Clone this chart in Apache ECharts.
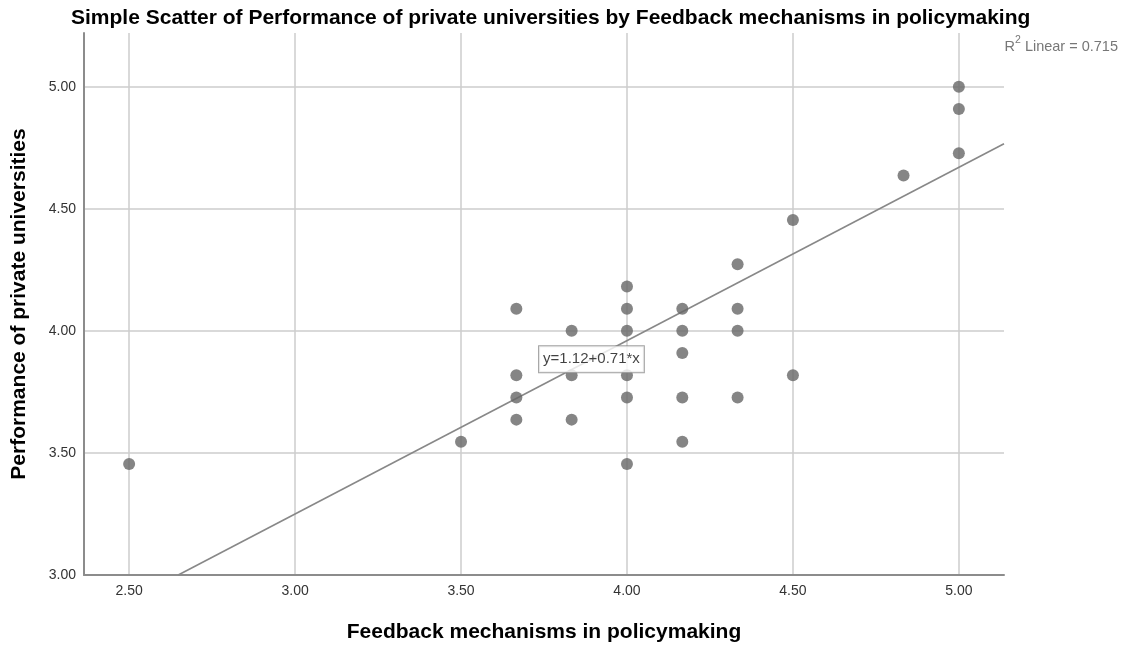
<!DOCTYPE html>
<html>
<head>
<meta charset="utf-8">
<script src="https://cdn.jsdelivr.net/npm/echarts@6/dist/echarts.min.js"></script>
<style>
  html, body { margin: 0; padding: 0; background: #fff; }
  #chart { width: 1121px; height: 645px; }
</style>
</head>
<body>
<div id="chart"></div>
<script>
// Feedback mechanisms score (x) for each respondent
const feedbackScores = [
  2.5, 3.5,
  3.6667, 3.6667, 3.6667, 3.6667,
  3.8333, 3.8333, 3.8333,
  4.0, 4.0, 4.0, 4.0, 4.0, 4.0,
  4.1667, 4.1667, 4.1667, 4.1667, 4.1667,
  4.3333, 4.3333, 4.3333, 4.3333,
  4.5, 4.5,
  4.8333,
  5.0, 5.0, 5.0
];
// Performance of private universities score (y) for each respondent
const performanceScores = [
  3.4545, 3.5455,
  4.0909, 3.8182, 3.7273, 3.6364,
  4.0, 3.8182, 3.6364,
  4.1818, 4.0909, 4.0, 3.8182, 3.7273, 3.4545,
  4.0909, 4.0, 3.9091, 3.7273, 3.5455,
  4.2727, 4.0909, 4.0, 3.7273,
  4.4545, 3.8182,
  4.6364,
  5.0, 4.9091, 4.7273
];
// Linear fit
const fitIntercept = 1.12;
const fitSlope = 0.71;
const rSquared = 0.715;
// Tick labels
const xTicks = [2.5, 3.0, 3.5, 4.0, 4.5, 5.0];
const yTicks = [3.0, 3.5, 4.0, 4.5, 5.0];

const xMin = 2.364, xMax = 5.136, yMin = 3.0, yMax = 5.22;

const points = feedbackScores.map((x, i) => [x, performanceScores[i]]);
const fitAt = x => fitIntercept + fitSlope * x;
const xStart = (yMin - fitIntercept) / fitSlope;
const fitLine = [[xStart, fitAt(xStart)], [xMax, fitAt(xMax)]];
const labelX = 3.893;

const chart = echarts.init(document.getElementById('chart'), null, { renderer: 'canvas' });
const fontFamily = '"Liberation Sans", Arial, sans-serif';

chart.setOption({
  animation: false,
  backgroundColor: '#ffffff',
  title: {
    text: 'Simple Scatter of Performance of private universities by Feedback mechanisms in policymaking',
    left: 66,
    top: 3,
    textStyle: { fontFamily, fontSize: 21, fontWeight: 'bold', color: '#000' }
  },
  grid: {
    left: 84, right: 117, top: 33, bottom: 70,
    containLabel: false,
    outerBoundsMode: 'none'
  },
  xAxis: {
    type: 'value',
    min: xMin,
    max: xMax,
    name: 'Feedback mechanisms in policymaking',
    nameLocation: 'middle',
    nameGap: 47,
    nameTextStyle: { fontFamily, fontSize: 21, fontWeight: 'bold', color: '#000' },
    axisLine: { show: true, lineStyle: { color: '#8c8c8c', width: 2 } },
    axisTick: { show: false, customValues: xTicks },
    axisLabel: {
      customValues: xTicks,
      fontFamily, fontSize: 14, color: '#333', margin: 9,
      formatter: v => v.toFixed(2)
    },
    splitLine: { show: true, lineStyle: { color: '#cccccc', width: 1.5 } }
  },
  yAxis: {
    type: 'value',
    min: yMin,
    max: yMax,
    name: 'Performance of private universities',
    nameLocation: 'middle',
    nameGap: 54,
    nameTextStyle: { fontFamily, fontSize: 21, fontWeight: 'bold', color: '#000' },
    axisLine: { show: true, lineStyle: { color: '#8c8c8c', width: 2 } },
    axisTick: { show: false, customValues: yTicks },
    axisLabel: {
      customValues: yTicks,
      fontFamily, fontSize: 14, color: '#333', margin: 8,
      formatter: v => v.toFixed(2)
    },
    splitLine: { show: true, lineStyle: { color: '#cccccc', width: 1.5 } }
  },
  graphic: [{
    type: 'text',
    right: 3,
    top: 35,
    style: {
      text: '{base|R}{sup|2}{base| Linear = ' + rSquared.toFixed(3) + '}',
      rich: {
        base: { fontFamily, fontSize: 14.5, fill: '#777777', verticalAlign: 'bottom', lineHeight: 19 },
        sup: { fontFamily, fontSize: 10.5, fill: '#777777', verticalAlign: 'top', lineHeight: 19, padding: [0, 0, 7, 0] }
      }
    }
  }],
  series: [
    {
      type: 'line',
      data: fitLine,
      symbol: 'none',
      clip: true,
      z: 3,
      lineStyle: { color: '#888888', width: 1.6 },
      silent: true
    },
    {
      type: 'scatter',
      data: points,
      symbol: 'circle',
      symbolSize: 12,
      z: 4,
      itemStyle: { color: '#666666' }
    },
    {
      type: 'scatter',
      data: [[labelX, fitAt(labelX)]],
      symbolSize: 0,
      z: 6,
      silent: true,
      label: {
        show: true,
        position: 'inside',
        formatter: 'y=' + fitIntercept.toFixed(2) + '+' + fitSlope.toFixed(2) + '*x',
        fontFamily, fontSize: 15, color: '#111',
        backgroundColor: '#ffffff',
        borderColor: '#8a8a8a',
        borderWidth: 1,
        padding: [6, 4, 5, 4]
      }
    }
  ]
});
</script>
</body>
</html>
